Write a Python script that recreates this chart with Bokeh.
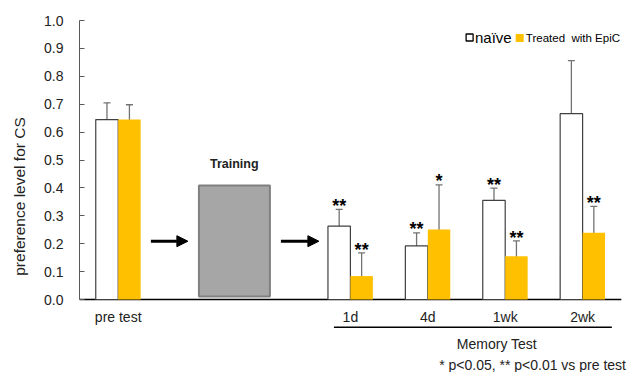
from bokeh.plotting import figure
from bokeh.models import (ColumnDataSource, Whisker, TeeHead, Arrow, NormalHead,
                          FixedTicker, NumeralTickFormatter)
from bokeh.core.properties import value
from bokeh.embed import file_html
from bokeh.resources import INLINE

# ---- data ----
slots = ["pre test", "", "", "1d", "4d", "1wk", "2wk"]   # x layout (tick labels)
categories = ["pre test", "1d", "4d", "1wk", "2wk"]
naive = [0.645, 0.263, 0.192, 0.355, 0.666]
naive_err = [0.060, 0.060, 0.047, 0.044, 0.190]
treated = [0.645, 0.084, 0.251, 0.155, 0.239]
treated_err = [0.053, 0.083, 0.160, 0.055, 0.095]
naive_sig = ["", "**", "**", "**", ""]
treated_sig = ["", "**", "*", "**", "**"]
y_ticks = [0.0, 0.1, 0.2, 0.3, 0.4, 0.5, 0.6, 0.7, 0.8, 0.9, 1.0]

FONT = value("Liberation Sans")
TXT = "#222222"
YELLOW = "#FFC000"
ERRC = "#737373"

centers = [slots.index(c) + 0.5 for c in categories]
bw = 0.29
xn = [c - bw / 2 for c in centers]
xt = [c + bw / 2 for c in centers]

p = figure(width=627, height=372, output_backend="svg", toolbar_location=None,
           x_range=(0, 7.08), y_range=(-0.2616, 1.0), x_axis_location=None,
           min_border_left=79, min_border_right=0, min_border_top=20, min_border_bottom=0)
p.outline_line_color = None
p.xgrid.visible = False
p.ygrid.visible = False
p.background_fill_color = "white"

# y axis
ax = p.yaxis[0]
ax.bounds = (0, 1)
ax.ticker = FixedTicker(ticks=y_ticks)
ax.formatter = NumeralTickFormatter(format="0.0")
ax.major_tick_in = 5
ax.major_tick_out = 0
ax.minor_tick_line_color = None
ax.axis_line_color = "#595959"
ax.major_tick_line_color = "#595959"
ax.major_label_text_font = "Liberation Sans"
ax.major_label_text_font_size = "14px"
ax.major_label_text_color = TXT
ax.major_label_standoff = 16
ax.axis_label = "preference level for CS"
ax.axis_label_text_font = "Liberation Sans"
ax.axis_label_text_font_size = "15.5px"
ax.axis_label_text_font_style = "normal"
ax.axis_label_text_color = TXT
ax.axis_label_standoff = 13

# baseline (x axis line)
p.segment(x0=[0], y0=[0], x1=[len(slots)], y1=[0], line_color="black", line_width=1.3)

# bars
src = ColumnDataSource(dict(
    xn=xn, xt=xt, naive=naive, treated=treated,
    n_lo=[v - e for v, e in zip(naive, naive_err)],
    n_hi=[v + e for v, e in zip(naive, naive_err)],
    t_lo=[v - e for v, e in zip(treated, treated_err)],
    t_hi=[v + e for v, e in zip(treated, treated_err)],
    n_sig=naive_sig, t_sig=treated_sig,
    n_sy=[v + e + 0.012 for v, e in zip(naive, naive_err)],
    t_sy=[v + e + 0.012 for v, e in zip(treated, treated_err)],
))
p.vbar(x="xn", top="naive", bottom=0, width=bw, source=src,
       fill_color="white", line_color="#404040", line_width=1.2)
p.vbar(x="xt", top="treated", bottom=0, width=bw, source=src,
       fill_color=YELLOW, line_color=None)

for base, lo, hi in (("xn", "n_lo", "n_hi"), ("xt", "t_lo", "t_hi")):
    p.add_layout(Whisker(source=src, base=base, lower=lo, upper=hi,
                         line_color=ERRC, line_width=1.3,
                         upper_head=TeeHead(size=7, line_color=ERRC, line_width=1.3),
                         lower_head=TeeHead(size=7, line_color=ERRC, line_width=1.3)))

# significance stars
p.text(x="xn", y="n_sy", text="n_sig", source=src, text_font=FONT, text_font_size="18px",
       text_font_style="bold", text_align="center", text_baseline="alphabetic", text_color="black")
p.text(x="xt", y="t_sy", text="t_sig", source=src, text_font=FONT, text_font_size="18px",
       text_font_style="bold", text_align="center", text_baseline="alphabetic", text_color="black")

# x category labels
p.text(x=centers, y=[-0.0627] * len(centers), text=categories, text_font=FONT,
       text_font_size="14px", text_align="center", text_baseline="middle", text_color=TXT)

# training box, arrows
p.quad(left=1.543, right=2.460, bottom=0.011, top=0.409,
       fill_color="#a6a6a6", line_color="#808080", line_width=2)
p.text(x=[2.0], y=[0.487], text=["Training"], text_font=FONT, text_font_size="12.5px",
       text_font_style="bold", text_align="center", text_baseline="middle", text_color=TXT)
for xs, xe in ((0.922, 1.400), (2.602, 3.093)):
    p.add_layout(Arrow(end=NormalHead(size=11, fill_color="black", line_color="black"),
                       x_start=xs, y_start=0.209, x_end=xe, y_end=0.209,
                       line_color="black", line_width=3))

# Memory Test bracket
p.segment(x0=[3.287], y0=[-0.0993], x1=[6.878], y1=[-0.0993], line_color="black", line_width=1.5)
p.text(x=[5.393], y=[-0.158], text=["Memory Test"], text_font=FONT, text_font_size="14px",
       text_align="center", text_baseline="middle", text_color=TXT)
p.text(x=[7.06], y=[-0.233], text=["* p<0.05, ** p<0.01 vs pre test"], text_font=FONT,
       text_font_size="14px", text_align="right", text_baseline="middle", text_color=TXT)

# legend (manual)
p.scatter(x=[5.04], y=[0.939], marker="square", size=7, fill_color="white",
          line_color="black", line_width=1.3)
p.text(x=[5.109], y=[0.939], text=["naïve"], text_font=FONT, text_font_size="15px",
       text_align="left", text_baseline="middle", text_color="black")
p.scatter(x=[5.687], y=[0.937], marker="square", size=8, fill_color=YELLOW, line_color=None)
p.text(x=[5.767], y=[0.937], text=["Treated\u00a0 with EpiC"], text_font=FONT,
       text_font_size="11.5px", text_align="left", text_baseline="middle", text_color="black")

open("out.html", "w").write(file_html(p, INLINE))
